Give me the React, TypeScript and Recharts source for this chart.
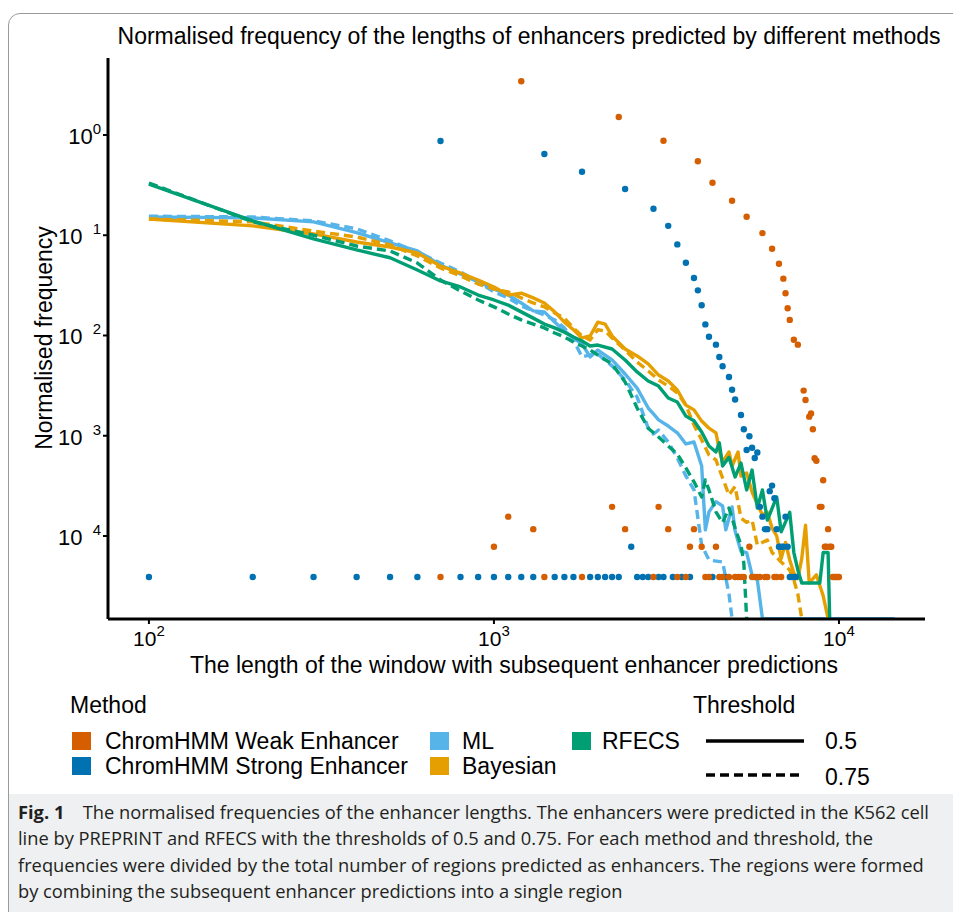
import React from 'react';
import { ComposedChart, Line, Scatter, XAxis, YAxis } from 'recharts';

// zero counts are drawn on the lower edge of the panel (as ggplot does with -Inf)
const FLOOR = 1.5e-5;

const X_TICKS = [100, 1000, 10000];
const Y_TICKS = [1, 0.1, 0.01, 0.001, 0.0001];

const mlSolid: [number, number][] = [
  [100, 0.152], [200, 0.149], [300, 0.136], [400, 0.106], [500, 0.0837], [600, 0.0697], [700, 0.0504],
  [800, 0.041], [900, 0.0342], [1000, 0.0291], [1100, 0.0253], [1200, 0.0211], [1300, 0.0176], [1400, 0.0172],
  [1500, 0.0136], [1600, 0.0111], [1700, 0.00945], [1800, 0.00822], [1900, 0.00611], [2000, 0.00716],
  [2200, 0.0057], [2400, 0.00413], [2600, 0.00299], [2800, 0.00189], [2900, 0.00165], [3000, 0.00144],
  [3200, 0.00125], [3400, 0.00107], [3600, 0.000828], [3800, 0.000866], [4000, 0.000499], [4100, 0.000115],
  [4200, 0.000174], [4400, 0.00022], [4600, 0.000199], [4700, 0.000115], [4900, 0.000195], [5000, 0.000112],
  [5200, 0.0000704], [5400, 0.0000683], [5600, 0.0000407], [5800, 0.0000364], [6000, FLOOR], [14500, FLOOR],
];

const mlDashed: [number, number][] = [
  [100, 0.155], [200, 0.152], [300, 0.139], [400, 0.116], [500, 0.0877], [600, 0.0681], [700, 0.0528],
  [800, 0.043], [900, 0.0342], [1000, 0.0272], [1100, 0.0237], [1200, 0.0197], [1300, 0.0176], [1400, 0.016],
  [1500, 0.0143], [1600, 0.0119], [1700, 0.00902], [1800, 0.00611], [1900, 0.0064], [2000, 0.00653],
  [2200, 0.00497], [2400, 0.0036], [2600, 0.00243], [2800, 0.00119], [2900, 0.00104], [3000, 0.00114],
  [3200, 0.000866], [3400, 0.0006], [3600, 0.000397], [3800, 0.000288], [4000, 0.0000809], [4200, 0.0000576],
  [4600, 0.000055], [4800, 0.0000264], [4900, FLOOR],
];

const bayesSolid: [number, number][] = [
  [100, 0.145], [200, 0.124], [300, 0.103], [400, 0.0857], [500, 0.0763], [600, 0.0666], [700, 0.0493],
  [800, 0.042], [900, 0.0358], [1000, 0.0305], [1100, 0.0253], [1200, 0.0265], [1300, 0.0237], [1400, 0.0211],
  [1500, 0.0172], [1600, 0.0136], [1700, 0.0114], [1800, 0.00945], [1900, 0.00989], [2000, 0.0136],
  [2100, 0.013], [2200, 0.00989], [2400, 0.00733], [2600, 0.00625], [2800, 0.0052], [3000, 0.00403],
  [3200, 0.00352], [3400, 0.00286], [3600, 0.00202], [3800, 0.00181], [4000, 0.0014], [4200, 0.00119],
  [4400, 0.00107], [4500, 0.000721], [4600, 0.000547], [4800, 0.000689], [4900, 0.000499], [5100, 0.000689],
  [5200, 0.000397], [5400, 0.000425], [5600, 0.000274], [5800, 0.000208], [6000, 0.000162], [6200, 0.000172],
  [6400, 0.00012], [6600, 0.0001], [6800, 0.0000594], [7000, 0.0000862], [7200, 0.0000576], [7400, 0.0000427],
  [7600, 0.0000375], [7800, 0.0000594], [8000, 0.000128], [8200, 0.000034], [8600, 0.000041], [8800, 0.000032],
  [9000, 0.0000253], [9300, FLOOR],
];

const bayesDashed: [number, number][] = [
  [100, 0.145], [200, 0.136], [300, 0.11], [400, 0.0961], [500, 0.08], [600, 0.0621], [700, 0.0471],
  [800, 0.0392], [900, 0.0326], [1000, 0.0291], [1100, 0.0272], [1200, 0.0237], [1300, 0.0211], [1400, 0.0193],
  [1500, 0.0168], [1600, 0.0149], [1700, 0.0119], [1800, 0.00989], [1900, 0.00902], [2000, 0.0114],
  [2100, 0.0111], [2200, 0.00945], [2400, 0.00716], [2600, 0.00544], [2800, 0.00443], [3000, 0.0036],
  [3200, 0.00313], [3400, 0.00267], [3600, 0.00202], [3800, 0.00128], [4000, 0.000907], [4200, 0.000643],
  [4400, 0.000573], [4600, 0.000379], [4800, 0.000256], [5000, 0.000312], [5200, 0.000151], [5400, 0.000137],
  [5600, 0.000144], [5800, 0.0000812], [6200, 0.0000912], [6400, 0.0000684], [6800, 0.000055], [7200, 0.0000458],
  [7400, 0.0000364], [7600, 0.0000264], [7800, FLOOR],
];

const rfecsSolid: [number, number][] = [
  [100, 0.324], [200, 0.139], [300, 0.092], [400, 0.0713], [500, 0.0596], [600, 0.045], [700, 0.035],
  [800, 0.0305], [900, 0.0253], [1000, 0.0226], [1100, 0.0201], [1200, 0.0172], [1300, 0.0149], [1400, 0.013],
  [1500, 0.0119], [1600, 0.0108], [1700, 0.00967], [1800, 0.00882], [1900, 0.00785], [2000, 0.00803],
  [2200, 0.00733], [2400, 0.0057], [2600, 0.00433], [2800, 0.00352], [3000, 0.00313], [3200, 0.00238],
  [3400, 0.00217], [3600, 0.00157], [3800, 0.00141], [4000, 0.00109], [4200, 0.000791], [4400, 0.000689],
  [4500, 0.00085], [4600, 0.000499], [4800, 0.00061], [5000, 0.000388], [5200, 0.000533], [5400, 0.000288],
  [5600, 0.000455], [5800, 0.00019], [6000, 0.000288], [6200, 0.000144], [6600, 0.000245], [6800, 0.00011],
  [7200, 0.000172], [7400, 0.0000684], [7600, 0.0000458], [7800, 0.000034], [8800, 0.000034], [9000, 0.0000684],
  [9300, 0.0000684], [9400, FLOOR],
];

const rfecsDashed: [number, number][] = [
  [100, 0.332], [200, 0.136], [300, 0.1], [400, 0.0781], [500, 0.0697], [600, 0.0528], [700, 0.0358],
  [800, 0.0278], [900, 0.0226], [1000, 0.0193], [1100, 0.0164], [1200, 0.0143], [1300, 0.013], [1400, 0.0119],
  [1500, 0.0106], [1600, 0.00967], [1700, 0.00861], [1800, 0.00785], [1900, 0.00716], [2000, 0.00639],
  [2200, 0.0052], [2400, 0.00344], [2600, 0.00189], [2800, 0.00119], [3000, 0.00097], [3200, 0.000791],
  [3400, 0.000658], [3600, 0.000477], [3800, 0.000347], [4000, 0.000245], [4100, 0.000362], [4200, 0.000288],
  [4400, 0.000174], [4600, 0.000136], [4800, 0.00019], [5000, 0.00012], [5200, 0.0000812], [5300, 0.0000537],
  [5400, FLOOR],
];

const chromStrong: [number, number][] = [
  [100, 3.9e-5], [200, 3.9e-5], [300, 3.9e-5], [400, 3.9e-5], [500, 3.9e-5], [600, 3.9e-5], [700, 0.87],
  [800, 3.9e-5], [900, 3.9e-5], [1000, 3.9e-5], [1100, 3.9e-5], [1200, 3.9e-5], [1300, 3.9e-5], [1400, 0.646],
  [1500, 3.9e-5], [1600, 3.9e-5], [1700, 3.9e-5], [1800, 0.43], [1900, 3.9e-5], [2000, 3.9e-5], [2100, 3.9e-5],
  [2200, 3.9e-5], [2300, 3.9e-5], [2400, 0.289], [2500, 7.8e-5], [2600, 3.9e-5], [2700, 3.9e-5], [2800, 3.9e-5],
  [2900, 0.184], [3000, 3.9e-5], [3100, 3.9e-5], [3200, 0.124], [3300, 3.9e-5], [3400, 0.081], [3500, 3.9e-5],
  [3600, 0.0532], [3700, 3.9e-5], [3800, 0.0375], [3900, 0.0282], [4000, 0.02], [4100, 0.0129], [4200, 0.00973],
  [4300, 3.9e-5], [4400, 0.0081], [4500, 0.0061], [4600, 0.00493], [4700, 3.9e-5], [4800, 0.00386],
  [4900, 0.00288], [5000, 0.0023], [5200, 0.00161], [5300, 0.00116], [5400, 0.00072], [5500, 0.00099],
  [5600, 0.00076], [5700, 0.0006], [5800, 0.00068], [5900, 1.95e-4], [6000, 1.56e-4], [6100, 1.17e-4],
  [6200, 1.17e-4], [6300, 2.8e-4], [6400, 3.18e-4], [6500, 2.38e-4], [6600, 1.17e-4], [6700, 7.8e-5],
  [6800, 7.8e-5], [6900, 7.8e-5], [7000, 1.56e-4], [7100, 7.8e-5], [7200, 3.9e-5], [7300, 3.9e-5],
  [7400, 3.9e-5], [7500, 3.9e-5],
];

const chromWeak: [number, number][] = [
  [700, 3.9e-5], [1000, 7.8e-5], [1100, 1.56e-4], [1200, 3.43], [1300, 1.17e-4], [1400, 3.9e-5], [1800, 3.9e-5],
  [2200, 1.95e-4], [2300, 1.51], [2400, 1.17e-4], [2900, 3.9e-5], [3000, 1.95e-4], [3100, 0.877], [3200, 1.17e-4],
  [3400, 3.9e-5], [3600, 3.9e-5], [3700, 7.8e-5], [3800, 1.17e-4], [3900, 0.547], [4000, 7.8e-5], [4100, 3.9e-5],
  [4200, 3.9e-5], [4300, 0.334], [4400, 7.8e-5], [4500, 3.9e-5], [4600, 3.9e-5], [4800, 3.9e-5], [4900, 0.221],
  [5000, 3.9e-5], [5100, 3.9e-5], [5200, 3.9e-5], [5300, 3.9e-5], [5400, 0.153], [5500, 7.8e-5], [5600, 3.9e-5],
  [5700, 3.9e-5], [5800, 3.9e-5], [5900, 3.9e-5], [6000, 0.105], [6100, 3.9e-5], [6200, 3.9e-5], [6400, 0.0734],
  [6500, 3.9e-5], [6600, 3.9e-5], [6700, 0.052], [6800, 3.9e-5], [6900, 0.0369], [7000, 0.0264], [7100, 0.0187],
  [7200, 0.0143], [7400, 0.00908], [7600, 0.0081], [7900, 0.00282], [8000, 0.00227], [8200, 0.00155],
  [8300, 0.00167], [8400, 0.00116], [8500, 5.96e-4], [8600, 5.64e-4], [8800, 1.95e-4], [8900, 1.95e-4],
  [9000, 3.6e-4], [9100, 7.8e-5], [9200, 7.8e-5], [9300, 1.17e-4], [9400, 7.8e-5], [9500, 7.8e-5],
  [9600, 3.9e-5], [9700, 3.9e-5], [9800, 3.9e-5], [9900, 3.9e-5], [10000, 3.9e-5],
];

const COL = {
  weak: '#D55E00',
  strong: '#0072B2',
  ml: '#56B4E9',
  bayes: '#E69F00',
  rfecs: '#009E73',
};

const FONT = '"Liberation Sans", Arial, Helvetica, sans-serif';
const DASH = '9 5';

const toPts = (a: [number, number][]) => a.map(([x, y]) => ({ x, y }));

const XTick = (props: any) => {
  const { x, y, payload } = props;
  const e = Math.round(Math.log10(payload.value));
  return (
    <text x={x} y={y + 20} textAnchor="middle" fontFamily={FONT} fontSize={21} fill="#000">
      10<tspan dy={-10} fontSize={15}>{e}</tspan>
    </text>
  );
};

// the figure lost its minus signs, so negative powers show a gap before the digit
const YTick = (props: any) => {
  const { x, y, payload } = props;
  const e = Math.round(Math.log10(payload.value));
  return (
    <text x={x} y={y + 9} textAnchor="end" fontFamily={FONT} fontSize={22} fill="#000">
      10
      {e < 0 ? (
        <tspan dy={-10} dx={6} fontSize={15}>{' ' + -e}</tspan>
      ) : (
        <tspan dy={-10} fontSize={15}>{e}</tspan>
      )}
    </text>
  );
};

const dot = (fill: string) => (p: any) => <circle cx={p.cx} cy={p.cy} r={3.2} fill={fill} />;

const lineProps = {
  type: 'linear' as const,
  dataKey: 'y',
  dot: false,
  activeDot: false,
  strokeWidth: 3.4,
  strokeLinejoin: 'round' as const,
  isAnimationActive: false,
};

const Square = ({ color }: { color: string }) => (
  <div style={{ width: 19, height: 18, background: color }} />
);

const text = (s: string, left: number, cy: number, size = 23, extra: React.CSSProperties = {}) => (
  <div
    style={{
      position: 'absolute',
      left,
      top: cy - size * 0.58,
      fontSize: size,
      lineHeight: `${Math.round(size * 1.16)}px`,
      whiteSpace: 'nowrap',
      color: '#000',
      ...extra,
    }}
  >
    {s}
  </div>
);

export default function App() {
  return (
    <div
      style={{
        position: 'absolute',
        left: 0,
        top: 0,
        width: 953,
        height: 912,
        overflow: 'hidden',
        background: '#fff',
        fontFamily: FONT,
      }}
    >
      <div style={{ position: 'absolute', left: 9, top: 794, width: 1000, height: 200, background: '#eef0f1' }} />
      <div
        style={{
          position: 'absolute',
          left: 8,
          top: 13,
          width: 1100,
          height: 1100,
          border: '1px solid #9a9a9a',
          borderRadius: 12,
        }}
      />

      <div style={{ position: 'absolute', left: 0, top: 0 }}>
        <ComposedChart width={953} height={680} margin={{ top: 58, right: 28, left: 0, bottom: 0 }}>
          <XAxis
            type="number"
            dataKey="x"
            scale="log"
            domain={[76.1, 17757]}
            allowDataOverflow
            ticks={X_TICKS}
            tick={XTick}
            tickSize={5}
            tickLine={{ stroke: '#000', strokeWidth: 2 }}
            axisLine={{ stroke: '#000', strokeWidth: 3 }}
            height={61}
          />
          <YAxis
            type="number"
            dataKey="y"
            scale="log"
            domain={[1.486e-5, 5.86]}
            allowDataOverflow
            ticks={Y_TICKS}
            tick={YTick}
            tickSize={5}
            tickLine={{ stroke: '#000', strokeWidth: 2 }}
            axisLine={{ stroke: '#000', strokeWidth: 3 }}
            width={108}
          />
          <Line {...lineProps} data={toPts(mlSolid)} stroke={COL.ml} />
          <Line {...lineProps} data={toPts(mlDashed)} stroke={COL.ml} strokeDasharray={DASH} />
          <Line {...lineProps} data={toPts(bayesSolid)} stroke={COL.bayes} />
          <Line {...lineProps} data={toPts(bayesDashed)} stroke={COL.bayes} strokeDasharray={DASH} />
          <Line {...lineProps} data={toPts(rfecsSolid)} stroke={COL.rfecs} />
          <Line {...lineProps} data={toPts(rfecsDashed)} stroke={COL.rfecs} strokeDasharray={DASH} />
          <Scatter data={toPts(chromStrong)} shape={dot(COL.strong)} isAnimationActive={false} />
          <Scatter data={toPts(chromWeak)} shape={dot(COL.weak)} isAnimationActive={false} />
        </ComposedChart>
      </div>

      {/* titles */}
      <div
        style={{
          position: 'absolute',
          left: 529,
          top: 24,
          transform: 'translateX(-50%)',
          fontSize: 23,
          lineHeight: '24px',
          whiteSpace: 'nowrap',
        }}
      >
        Normalised frequency of the lengths of enhancers predicted by different methods
      </div>
      <div
        style={{
          position: 'absolute',
          left: 514,
          top: 653,
          transform: 'translateX(-50%)',
          fontSize: 23,
          lineHeight: '24px',
          whiteSpace: 'nowrap',
        }}
      >
        The length of the window with subsequent enhancer predictions
      </div>
      <div
        style={{
          position: 'absolute',
          left: 44,
          top: 338,
          transform: 'translate(-50%, -50%) rotate(-90deg)',
          fontSize: 23,
          lineHeight: '24px',
          whiteSpace: 'nowrap',
        }}
      >
        Normalised frequency
      </div>

      {/* legend: method */}
      {text('Method', 70, 705)}
      <div style={{ position: 'absolute', left: 72, top: 732 }}><Square color={COL.weak} /></div>
      <div style={{ position: 'absolute', left: 72, top: 757 }}><Square color={COL.strong} /></div>
      {text('ChromHMM Weak Enhancer', 105, 741)}
      {text('ChromHMM Strong Enhancer', 105, 766)}
      <div style={{ position: 'absolute', left: 430, top: 732 }}><Square color={COL.ml} /></div>
      <div style={{ position: 'absolute', left: 430, top: 757 }}><Square color={COL.bayes} /></div>
      {text('ML', 462, 741)}
      {text('Bayesian', 462, 766)}
      <div style={{ position: 'absolute', left: 572, top: 732 }}><Square color={COL.rfecs} /></div>
      {text('RFECS', 602, 741)}

      {/* legend: threshold */}
      {text('Threshold', 693, 705)}
      <svg style={{ position: 'absolute', left: 700, top: 725 }} width={110} height={60}>
        <line x1={6} x2={104} y1={16} y2={16} stroke="#000" strokeWidth={3.6} />
        <line x1={6} x2={104} y1={50} y2={50} stroke="#000" strokeWidth={3.6} strokeDasharray={DASH} />
      </svg>
      {text('0.5', 825, 741)}
      {text('0.75', 825, 777)}

      {/* caption */}
      <div
        style={{
          position: 'absolute',
          left: 18,
          top: 799,
          fontFamily: '"Open Sans", "Noto Sans", sans-serif',
          fontSize: 18.3,
          lineHeight: '26.3px',
          color: '#231f20',
          whiteSpace: 'nowrap',
        }}
      >
        <div>
          <b>Fig. 1</b>
          {'\u2003'}The normalised frequencies of the enhancer lengths. The enhancers were predicted in the K562 cell
        </div>
        <div>line by PREPRINT and RFECS with the thresholds of 0.5 and 0.75. For each method and threshold, the</div>
        <div>frequencies were divided by the total number of regions predicted as enhancers. The regions were formed</div>
        <div>by combining the subsequent enhancer predictions into a single region</div>
      </div>
    </div>
  );
}
